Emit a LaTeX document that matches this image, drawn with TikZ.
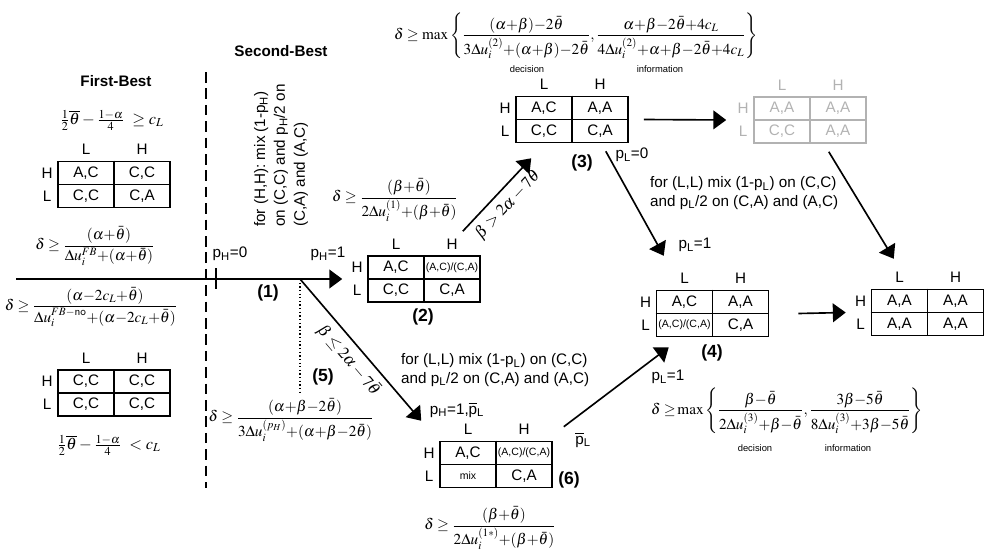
\documentclass[tikz,border=0pt]{standalone}
\usepackage{amsmath}
\usepackage{mathptmx}
\usepackage[no-math]{fontspec}
\setmainfont{Liberation Sans}
\usetikzlibrary{arrows.meta}
\newcommand{\pH}{p\textsubscript{H}}
\newcommand{\pL}{p\textsubscript{L}}
\newcommand{\pLbar}{$\overline{\mbox{p}}$\textsubscript{L}}
\newcommand{\acca}{{\fontsize{9}{10}\selectfont(A,C)/(C,A)}}
\newcommand{\mixcell}{{\fontsize{9}{10}\selectfont mix}}

\begin{document}
\begin{tikzpicture}[x=0.03cm,y=-0.03cm,
  font=\fontsize{13}{15.5}\selectfont,
  gamebox/.style={draw,line width=1.3pt,minimum width=3.36cm,minimum height=1.38cm,inner sep=0pt},
  gameline/.style={line width=1.1pt},
  arr/.style={line width=1.4pt,-{Triangle[length=11pt,width=16pt]}},
  mth/.style={font=\fontsize{13}{16}\selectfont,inner sep=0pt},
  tag/.style={font=\fontsize{15}{18}\selectfont\bfseries},
  tiny/.style={font=\fontsize{8}{10}\selectfont}]
  \useasboundingbox (0,0) rectangle (984,554);
  \foreach \n/\x/\y/\eHL/\eHH/\eLL/\eLH/\col in {
    fb/114/184.5/{A,C}/{C,C}/{C,C}/{C,A}/black,
    no/114/393/{C,C}/{C,C}/{C,C}/{C,C}/black,
    t2/424/279/{A,C}/\acca/{C,C}/{C,A}/black,
    t3/572/119.5/{A,C}/{A,A}/{C,C}/{C,A}/black,
    tg/810/120/{A,A}/{A,A}/{C,C}/{A,A}/black!30,
    t4/712.5/313.5/{A,C}/{A,A}/\acca/{C,A}/black,
    t6/496/464.5/{A,C}/\acca/\mixcell/{C,A}/black,
    t7/927.5/312.5/{A,A}/{A,A}/{A,A}/{A,A}/black} {
    \node[gamebox,draw=\col] (\n) at (\x,\y) {};
    \draw[gameline,\col] (\n.north) -- (\n.south) (\n.west) -- (\n.east);
    \node[text=\col] (\n-hl) at ([shift={(-28,-11.5)}]\n.center) {\eHL};
    \node[text=\col] (\n-hh) at ([shift={(28,-11.5)}]\n.center) {\eHH};
    \node[text=\col] (\n-ll) at ([shift={(-28,11.5)}]\n.center) {\eLL};
    \node[text=\col] (\n-lh) at ([shift={(28,11.5)}]\n.center) {\eLH};
    \node[text=\col] (\n-cl) at ([shift={(-28,-35)}]\n.center) {L};
    \node[text=\col] (\n-ch) at ([shift={(28,-35)}]\n.center) {H};
    \node[text=\col] (\n-rh) at ([shift={(-67,-11.5)}]\n.center) {H};
    \node[text=\col] (\n-rl) at ([shift={(-67,11.5)}]\n.center) {L};
  }
  \node[font=\fontsize{13}{15}\selectfont\bfseries] (fbtitle) at (116,81) {First-Best};
  \node[font=\fontsize{13}{15}\selectfont\bfseries] (sbtitle) at (281,51) {Second-Best};
  \draw[dash pattern=on 9pt off 5pt,line width=1.2pt] (206,72) -- (206,488);
  \node[mth,font=\fontsize{14}{16}\selectfont] (fc1) at (112,120) {$\frac{1}{2}\overline{\theta}-\frac{1-\alpha}{4}\ \geq c_L$};
  \node[mth] (ffb) at (95,246) {$\delta \geq \dfrac{(\alpha{+}\bar\theta)}{\Delta u_i^{FB}{+}(\alpha{+}\bar\theta)}$};
  \node[mth] (fno) at (91,307) {$\delta \geq \dfrac{(\alpha{-}2c_L{+}\bar\theta)}{\Delta u_i^{FB-\textsf{no}}{+}(\alpha{-}2c_L{+}\bar\theta)}$};
  \node[mth,font=\fontsize{14}{16}\selectfont] (fc2) at (109,445) {$\frac{1}{2}\overline{\theta}-\frac{1-\alpha}{4}\ < c_L$};
  \coordinate (start) at (16,279);
  \coordinate (b1) at (300,279);
  \draw[line width=1.5pt] (216,268) -- (216,289);
  \node (ph0) at (230,254) {\pH=0};
  \node (ph1) at (328,254) {\pH=1};
  \node[tag] (n1) at (268,293) {(1)};
  \node[rotate=90,anchor=west,align=left] (mixh) at (281,231)
    {for (H,H): mix (1-\pH)\\[1.5pt]on (C,C) and \pH/2 on\\[1.5pt](C,A) and (A,C)};
  \draw[arr] (start) -- ([shift={(-25,0)}]t2.west);
  \node[mth] (f2) at (395,200) {$\delta\geq\dfrac{(\beta{+}\bar\theta)}{2\Delta u_i^{(1)}{+}(\beta{+}\bar\theta)}$};
  \node[tag] (n2) at (423,317) {(2)};
  \draw[arr] ([shift={(-18,-24)}]t2.north east) -- node[sloped,below,mth,font=\fontsize{14}{16}\selectfont,inner sep=4pt] (lup) {$\beta > 2\alpha-7\bar\theta$} ([shift={(16,15)}]t3.south west);
  \node[mth] (f5) at (291,420) {$\delta\geq\dfrac{(\alpha{+}\beta{-}2\bar\theta)}{3\Delta u_i^{(p_H)}{+}(\alpha{+}\beta{-}2\bar\theta)}$};
  \draw[dotted,line width=1.1pt] (b1) -- ([shift={(0,-6)}]b1 |- f5.north);
  \node[tag] (n5) at (323,377) {(5)};
  \draw[arr] (b1) -- node[sloped,below,mth,font=\fontsize{14}{16}\selectfont,inner sep=5pt] (ldown) {$\beta \leq 2\alpha-7\bar\theta$} ([shift={(-18,-20)}]t6.north west);
  \node[align=left,anchor=west] (mixl2) at (397,370) {for (L,L) mix (1-\pL) on (C,C)\\and \pL/2 on (C,A) and (A,C)};
  \node (ph1pl) at (457,410) {\pH=1,\pLbar};
  \node[tag] (n6) at (569,480) {(6)};
  \node (plbar) at (583,440) {\pLbar};
  \node[mth] (f6) at (490,528) {$\delta\geq\dfrac{(\beta{+}\bar\theta)}{2\Delta u_i^{(1*)}{+}(\beta{+}\bar\theta)}$};
  \node[mth] (ftop) at (576,36) {$\delta\geq\max\left\{\dfrac{(\alpha{+}\beta){-}2\bar\theta}{3\Delta u_i^{(2)}{+}(\alpha{+}\beta){-}2\bar\theta},\dfrac{\alpha{+}\beta{-}2\bar\theta{+}4c_L}{4\Delta u_i^{(2)}{+}\alpha{+}\beta{-}2\bar\theta{+}4c_L}\right\}$};
  \node[tiny] (dec1) at (527,69) {decision};
  \node[tiny] (inf1) at (660,69) {information};
  \node[tag] (n3) at (582,163) {(3)};
  \node (pl0) at (632,155) {\pL=0};
  \draw[arr] ([shift={(15,0)}]t3.east) -- ([shift={(-27,0)}]tg.west);
  \draw[arr] ([shift={(-23,8)}]t3.south east) -- ([shift={(8,-34)}]t4.north west);
  \node[align=left,anchor=west] (mixl1) at (646,193) {for (L,L) mix (1-\pL) on (C,C)\\and \pL/2 on (C,A) and (A,C)};
  \node (pl1a) at (695,245) {\pL=1};
  \node[tag] (n4) at (712,353) {(4)};
  \draw[arr] ([shift={(11,-14)}]t6.north east) -- ([shift={(13,10)}]t4.south west);
  \node (pl1b) at (668,377) {\pL=1};
  \node[mth] (f4) at (787,411) {$\delta\geq\!\max\left\{\dfrac{\beta{-}\bar\theta}{2\Delta u_i^{(3)}{+}\beta{-}\bar\theta},\dfrac{3\beta{-}5\bar\theta}{8\Delta u_i^{(3)}{+}3\beta{-}5\bar\theta}\right\}$};
  \node[tiny] (dec2) at (755,448) {decision};
  \node[tiny] (inf2) at (848,448) {information};
  \draw[arr] ([shift={(-38,8)}]tg.south east) -- ([shift={(23,-30)}]t7.north west);
  \draw[arr] ([shift={(29,0)}]t4.east) -- ([shift={(-25,0)}]t7.west);
\end{tikzpicture}
\end{document}
